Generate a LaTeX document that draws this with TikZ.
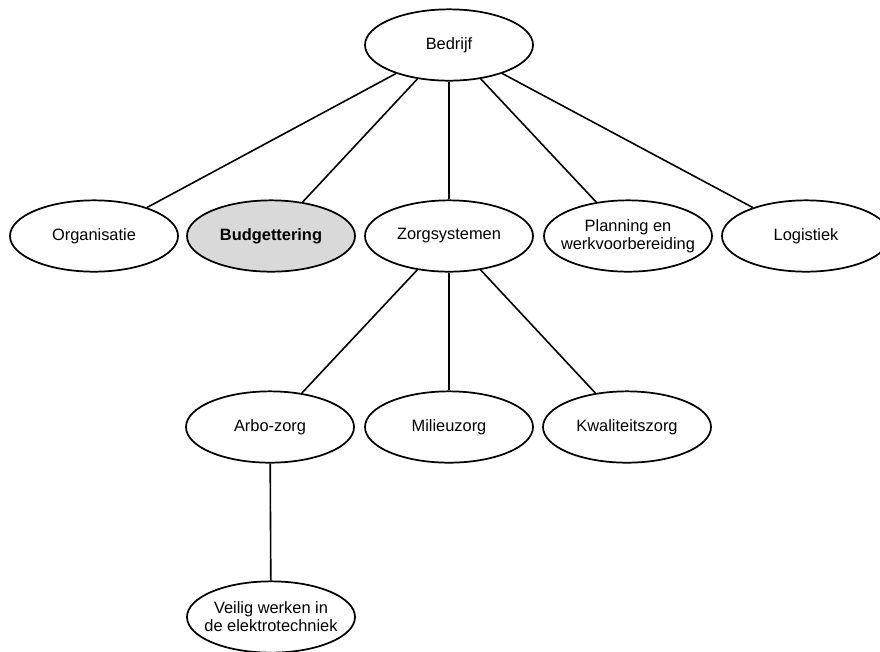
\documentclass[tikz,border=0pt]{standalone}
\usepackage{fontspec}
\setmainfont{Liberation Sans}
\usetikzlibrary{shapes.geometric}
\begin{document}
\begin{tikzpicture}[x=0.75pt,y=-0.75pt,
  caption/.style={align=center,inner sep=0pt,font=\fontsize{12.3}{13.5}\selectfont},
  topic/.style={ellipse,draw=black,line width=1.3pt,fill=white,
    minimum width=126pt,minimum height=53.5pt,inner sep=0pt,
    label={[caption]center:#1}},
  focus/.style={topic={\bfseries #1},fill=black!15},
  link/.style={line width=1.2pt,draw=black}]
\useasboundingbox (0,0) rectangle (880,651);
\clip (0,0) rectangle (880,651);
\fill[white] (0,0) rectangle (880,651);

% root
\node[topic={Bedrijf}] (bed) at (449,45) {};

% second level
\node[topic={Organisatie}] (org) at (94,236) {};
\node[focus={Budgettering}] (bud) at (271,236) {};
\node[topic={Zorgsystemen}] (zorg) at (449,236) {};
\node[topic={Planning en\\werkvoorbereiding}] (plan) at (628,236) {};
\node[topic={Logistiek}] (log) at (806,236) {};

% care systems
\node[topic={Arbo-zorg}] (arbo) at (270,427) {};
\node[topic={Milieuzorg}] (mil) at (449,427) {};
\node[topic={Kwaliteitszorg}] (kwal) at (627,427) {};

% safety
\node[topic={Veilig werken in\\de elektrotechniek}] (veil) at (271,617) {};

% connectors
\draw[link] (bed) -- (org);
\draw[link] (bed) -- (bud);
\draw[link] (bed) -- (zorg);
\draw[link] (bed) -- (plan);
\draw[link] (bed) -- (log);
\draw[link] (zorg) -- (arbo);
\draw[link] (zorg) -- (mil);
\draw[link] (zorg) -- (kwal);
\draw[link] (arbo) -- (veil);
\end{tikzpicture}
\end{document}
